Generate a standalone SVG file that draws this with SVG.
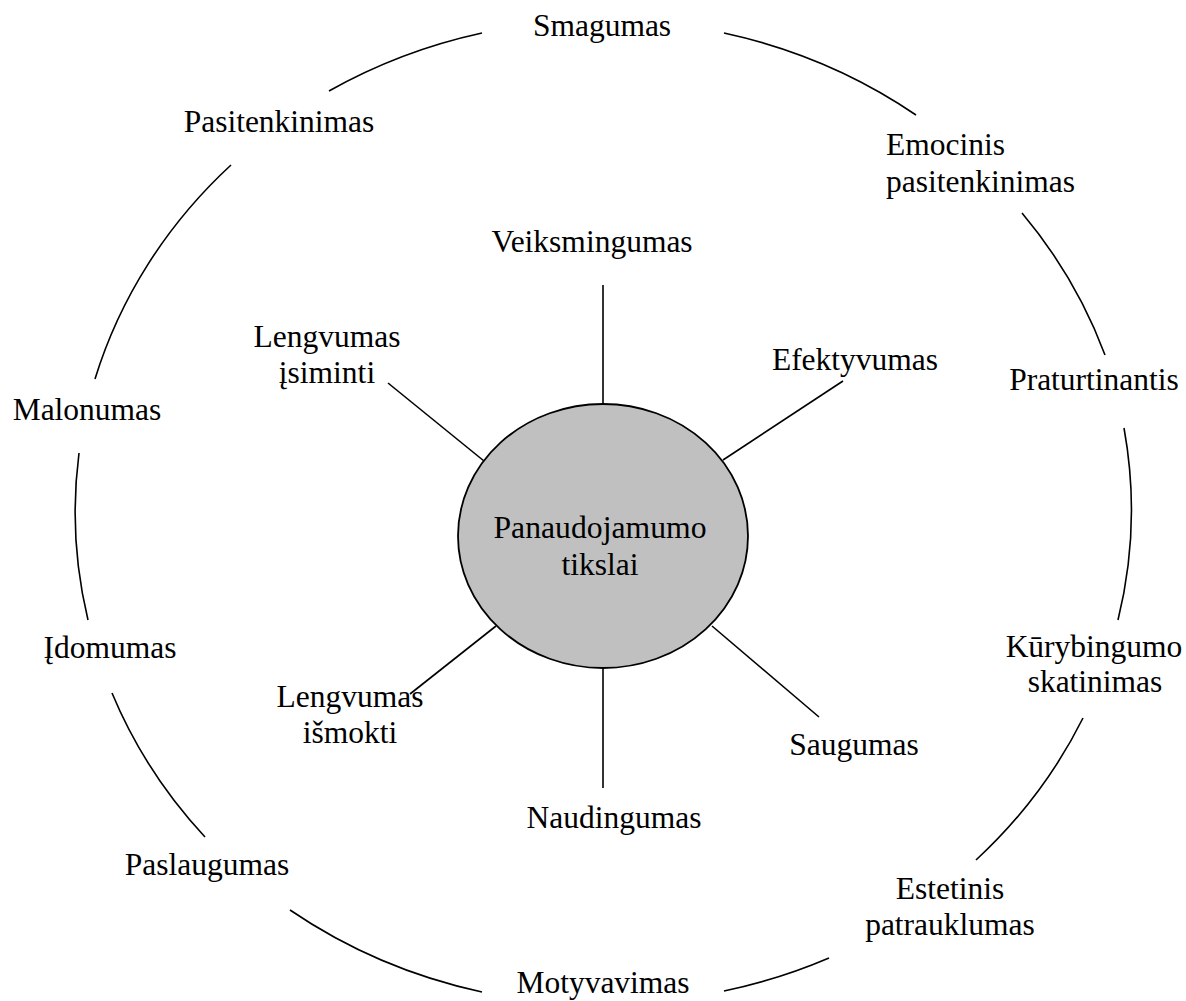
<svg xmlns="http://www.w3.org/2000/svg" width="1186" height="1001" viewBox="0 0 1186 1001">
<style>
  .lbl { font-family: "Liberation Serif", "Times New Roman", serif; font-size: 31.5px; fill: #000; }
  .c { text-anchor: middle; }
  .ln { stroke: #000; stroke-width: 1.6; fill: none; }
  .hub { fill: #c0c0c0; stroke: #000; stroke-width: 1.8; }
</style>
<rect width="1186" height="1001" fill="#fff"/>
<g id="ring" class="ln">
  <path d="M482 33 A528 492 0 0 0 329 91"/>
  <path d="M231 165 A528 492 0 0 0 95 379"/>
  <path d="M79 453 A528 492 0 0 0 88 620"/>
  <path d="M112 693 A528 492 0 0 0 205 837"/>
  <path d="M290 910 A528 492 0 0 0 482 992"/>
  <path d="M724 991 A528 492 0 0 0 829 958"/>
  <path d="M976 860 A528 492 0 0 0 1083 718"/>
  <path d="M1118 620 A528 492 0 0 0 1124 428"/>
  <path d="M1105 355 A528 492 0 0 0 1022 213"/>
  <path d="M916 115 A528 492 0 0 0 724 33"/>
</g>
<g id="connectors" class="ln">
  <line x1="603" y1="285" x2="603" y2="404"/>
  <line x1="843" y1="381" x2="723" y2="460"/>
  <line x1="388" y1="383" x2="484" y2="461"/>
  <line x1="496" y1="626" x2="410" y2="694"/>
  <line x1="712" y1="626" x2="819" y2="717"/>
  <line x1="603" y1="668" x2="603" y2="788"/>
</g>
<g id="center">
  <ellipse class="hub" cx="603" cy="536" rx="145" ry="132"/>
  <text class="lbl c" x="600" y="538" textLength="213" lengthAdjust="spacingAndGlyphs">Panaudojamumo</text>
  <text class="lbl c" x="600" y="575">tikslai</text>
</g>
<g id="veiksmingumas"><text class="lbl c" x="592" y="252">Veiksmingumas</text></g>
<g id="efektyvumas"><text class="lbl c" x="855" y="370">Efektyvumas</text></g>
<g id="lengvumas-isiminti">
  <text class="lbl c" x="327" y="347">Lengvumas</text>
  <text class="lbl c" x="327" y="383">įsiminti</text>
</g>
<g id="lengvumas-ismokti">
  <text class="lbl c" x="350" y="707">Lengvumas</text>
  <text class="lbl c" x="350" y="743">išmokti</text>
</g>
<g id="saugumas"><text class="lbl c" x="854" y="755">Saugumas</text></g>
<g id="naudingumas"><text class="lbl c" x="614" y="828">Naudingumas</text></g>
<g id="smagumas"><text class="lbl c" x="602" y="36">Smagumas</text></g>
<g id="pasitenkinimas"><text class="lbl c" x="279" y="132">Pasitenkinimas</text></g>
<g id="emocinis">
  <text class="lbl" x="886" y="155">Emocinis</text>
  <text class="lbl" x="886" y="192">pasitenkinimas</text>
</g>
<g id="praturtinantis"><text class="lbl c" x="1094" y="390">Praturtinantis</text></g>
<g id="malonumas"><text class="lbl c" x="87" y="420">Malonumas</text></g>
<g id="idomumas"><text class="lbl c" x="110" y="658">Įdomumas</text></g>
<g id="kurybingumo">
  <text class="lbl c" x="1094" y="657">Kūrybingumo</text>
  <text class="lbl c" x="1095" y="692">skatinimas</text>
</g>
<g id="paslaugumas"><text class="lbl c" x="207" y="875">Paslaugumas</text></g>
<g id="estetinis">
  <text class="lbl c" x="950" y="899">Estetinis</text>
  <text class="lbl c" x="950" y="935">patrauklumas</text>
</g>
<g id="motyvavimas"><text class="lbl c" x="603" y="993">Motyvavimas</text></g>
</svg>
